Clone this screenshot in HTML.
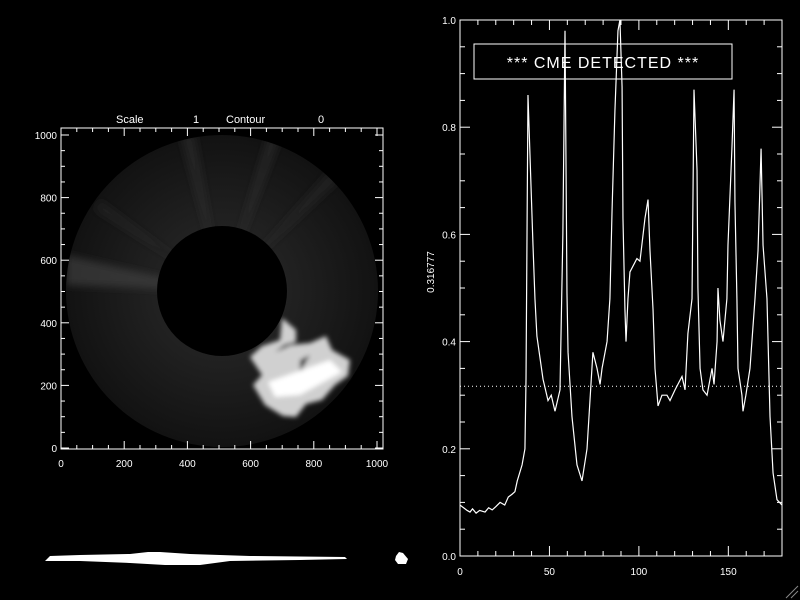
<!DOCTYPE html>
<html><head><meta charset="utf-8"><style>
html,body{margin:0;padding:0;background:#000;}
svg{display:block;font-family:"Liberation Sans",sans-serif;}
</style></head><body>
<svg id="chart" width="800" height="600" viewBox="0 0 800 600">
<defs>
<radialGradient id="corona" cx="222" cy="291" r="156" gradientUnits="userSpaceOnUse">
<stop offset="0.4" stop-color="#222"/><stop offset="0.7" stop-color="#1a1a1a"/><stop offset="1" stop-color="#121212"/>
</radialGradient>
<filter id="blur"><feGaussianBlur stdDeviation="4"/></filter>
<filter id="blur2"><feGaussianBlur stdDeviation="2.5"/></filter>
<clipPath id="annulus"><circle cx="222" cy="291" r="156"/></clipPath>
</defs>
<rect width="800" height="600" fill="#000"/>
<g>
<circle cx="222" cy="291" r="156" fill="url(#corona)"/>
<g clip-path="url(#annulus)" filter="url(#blur)">
<polygon points="222,291 66,255 66,285" fill="#444" opacity="0.6"/>
<polygon points="222,291 180,135 195,135" fill="#333" opacity="0.5"/>
<polygon points="222,291 268,135 280,140" fill="#333" opacity="0.5"/>
<polygon points="222,291 330,170 340,180" fill="#2e2e2e" opacity="0.5"/>
<polygon points="222,291 100,200 95,210" fill="#2e2e2e" opacity="0.5"/>
</g>
<g filter="url(#blur2)">
<path d="M282,318 L296,330 L296,342 L285,345 L275,352 L290,345 L310,343 L326,336 L332,350 L350,360 L348,376 L335,385 L322,400 L306,404 L296,417 L283,416 L265,405 L253,385 L262,375 L250,357 L262,346 L280,340 Z" fill="#d0d0d0"/>
<path d="M300,360 L310,355 L300,372 Z" fill="#202020"/>
<path d="M268,382 L330,360 L342,372 L300,395 L275,397 Z" fill="#fff"/>
</g>
<circle cx="222" cy="291" r="65" fill="#000"/>
</g>
<g id="leftAxes"></g>
<text x="116" y="123" fill="#fff" font-size="11">Scale</text>
<text x="193" y="123" fill="#fff" font-size="11">1</text>
<text x="226" y="123" fill="#fff" font-size="11">Contour</text>
<text x="318" y="123" fill="#fff" font-size="11">0</text>
<path d="M45,561 L50,556 L80,555 L130,554 L148,552 L160,552 L190,554 L250,556 L345,557 L347,559 L300,560 L230,561 L200,565 L165,565 L130,563 L80,561 Z" fill="#fff"/>
<path d="M396,556 L399,552 L403,553 L408,559 L406,564 L398,564 L395,560 Z" fill="#fff"/>
<g id="rightAxes"></g>
<rect x="474" y="44" width="258" height="35" fill="none" stroke="#fff" stroke-width="1"/>
<text x="603" y="68" fill="#fff" font-size="16" font-weight="normal" letter-spacing="1" text-anchor="middle">*** CME DETECTED ***</text>
<text transform="translate(434,272) rotate(-90)" fill="#fff" font-size="10" text-anchor="middle">0.316777</text>
<path d="M786,598 L798,586 M791,598 L798,591" stroke="#888"/>
</svg>
<script>
const xs=[0,2,4,5.6,7,9,11,14,16,18,20,22.4,25,27,29,30.7,32,34.7,36.3,36.9,38,40.8,41.9,43,46.4,49.2,51,53.1,55.9,57.5,58.7,59.8,60.4,62.6,65.4,68.2,71,73.2,74.3,76.6,78.3,79.4,82.2,83.8,85,86.6,88.3,89.4,90.6,91.1,92.2,92.8,93.9,95,98.9,100.6,103.4,105.1,106.2,107.9,109,110.7,112.9,115.7,117.4,120.2,124.1,125.8,127.4,129.7,130.8,132.5,133,134.2,135.8,138.1,140.9,142,143.7,144.2,145.3,147,149.2,149.8,152,153.2,153.7,154.8,155.4,157.6,158.2,159.8,162.1,164.9,166.6,168.3,169.4,171.6,173.3,175,177.2,180];
const ys=[0.095,0.09,0.085,0.082,0.088,0.08,0.085,0.082,0.09,0.086,0.092,0.1,0.095,0.11,0.115,0.12,0.14,0.17,0.2,0.33,0.86,0.58,0.48,0.41,0.33,0.29,0.3,0.27,0.31,0.6,0.98,0.49,0.38,0.26,0.17,0.14,0.2,0.32,0.38,0.35,0.32,0.35,0.4,0.48,0.645,0.83,0.98,1.0,0.875,0.63,0.46,0.4,0.48,0.53,0.555,0.55,0.63,0.665,0.57,0.46,0.35,0.28,0.3,0.3,0.29,0.31,0.335,0.31,0.415,0.48,0.87,0.72,0.5,0.35,0.31,0.3,0.35,0.32,0.4,0.5,0.44,0.4,0.48,0.58,0.76,0.87,0.66,0.48,0.35,0.3,0.27,0.3,0.35,0.48,0.57,0.76,0.58,0.48,0.26,0.155,0.105,0.095];
const threshold=[0.316777];
const rxTicks=[0,50,100,150];
const ryTicks=["0.0","0.2","0.4","0.6","0.8","1.0"];
const lTicks=[0,200,400,600,800,1000];
const NS='http://www.w3.org/2000/svg';
function mk(tag,attrs,parent){const e=document.createElementNS(NS,tag);for(const k in attrs)e.setAttribute(k,attrs[k]);parent.appendChild(e);return e;}
const X0=460,X1=782,Y0=556,Y1=20,XMAX=180;
const sx=v=>X0+(X1-X0)*v/XMAX;
const sy=v=>Y0-(Y0-Y1)*v;
const R=document.getElementById('rightAxes');
let r=mk('rect',{x:X0,y:Y1,width:X1-X0,height:Y0-Y1,fill:'none',stroke:'#fff'},R);


for(let v=0;v<=XMAX;v+=10){const big=v%50===0;const l=mk('line',{x1:sx(v),x2:sx(v),y1:Y0,y2:Y0-(big?10:5),stroke:'#fff'},R);mk('line',{x1:sx(v),x2:sx(v),y1:Y1,y2:Y1+(big?10:5),stroke:'#fff'},R);}
rxTicks.forEach(v=>{const t=mk('text',{x:sx(v),y:Y0+19,fill:'#fff','font-size':10,'text-anchor':'middle'},R);t.textContent=v;});
for(let i=0;i<=20;i++){const v=i*0.05;const big=i%4===0;mk('line',{x1:X0,x2:X0+(big?10:5),y1:sy(v),y2:sy(v),stroke:'#fff'},R);mk('line',{x1:X1,x2:X1-(big?10:5),y1:sy(v),y2:sy(v),stroke:'#fff'},R);}
ryTicks.forEach(s=>{const t=mk('text',{x:X0-4,y:sy(parseFloat(s))+4,fill:'#fff','font-size':10,'text-anchor':'end'},R);t.textContent=s;});
const th=mk('line',{x1:X0,x2:X1,y1:sy(threshold[0]),y2:sy(threshold[0]),stroke:'#fff','stroke-dasharray':'1 3'},R);


const pl=mk('polyline',{points:xs.map((x,i)=>sx(x)+','+sy(ys[i])).join(' '),fill:'none',stroke:'#fff','stroke-width':1.2},R);


const L=document.getElementById('leftAxes');
const LX0=61,LX1=383,LY0=449,LY1=128;
const lx=v=>61+316*v/1000, ly=v=>448-313*v/1000;
const f=mk('rect',{x:LX0,y:LY1,width:LX1-LX0,height:LY0-LY1,fill:'none',stroke:'#fff'},L);


for(let v=0;v<=1000;v+=50){const big=v%200===0;mk('line',{x1:lx(v),x2:lx(v),y1:LY0,y2:LY0-(big?8:4),stroke:'#fff'},L);mk('line',{x1:lx(v),x2:lx(v),y1:LY1,y2:LY1+(big?8:4),stroke:'#fff'},L);mk('line',{x1:LX0,x2:LX0+(big?8:4),y1:ly(v),y2:ly(v),stroke:'#fff'},L);mk('line',{x1:LX1,x2:LX1-(big?8:4),y1:ly(v),y2:ly(v),stroke:'#fff'},L);}
lTicks.forEach(v=>{const t=mk('text',{x:lx(v),y:LY0+18,fill:'#fff','font-size':10,'text-anchor':'middle'},L);t.textContent=v;
const u=mk('text',{x:LX0-4,y:ly(v)+4,fill:'#fff','font-size':10,'text-anchor':'end'},L);u.textContent=v;});
</script>
</body></html>
